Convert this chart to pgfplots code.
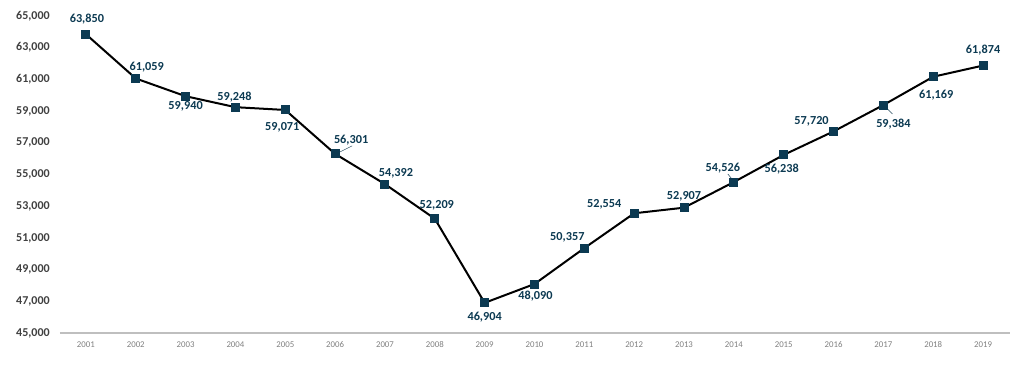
\documentclass[border=0pt]{standalone}
\usepackage{pgfplots}
\pgfplotsset{compat=1.18}
\usepackage{fontspec}
\setmainfont{Carlito}
\definecolor{navy}{HTML}{0C3A52}
\definecolor{tickgray}{HTML}{404040}
\definecolor{axgray}{HTML}{BFBFBF}
\newcommand{\lbl}[5]{\node[font=\bfseries\fontsize{9.2}{10}\selectfont, text=navy, inner sep=0pt] at ([xshift=#3*0.75pt, yshift=#4*0.75pt]axis cs:#1,#2) {#5};}
\newcommand{\ldr}[6]{\draw[navy!80!gray, line width=0.4pt] ([xshift=#3*0.75pt, yshift=#4*0.75pt]axis cs:#1,#2) -- ([xshift=#5*0.75pt, yshift=#6*0.75pt]axis cs:#1,#2);}
\begin{document}
\begin{tikzpicture}
\path[use as bounding box] (-45pt,-24pt) rectangle (724.5pt,249.75pt);
\begin{axis}[
  at={(0,0)}, anchor=origin,
  scale only axis,
  width=712.5pt, height=237.75pt,
  xmin=2000.48, xmax=2019.54,
  ymin=45000, ymax=65000,
  axis y line=none,
  axis x line*=bottom,
  axis line style={axgray, line width=0.8pt},
  x axis line style={-},
  xtick={2001,2002,2003,2004,2005,2006,2007,2008,2009,2010,2011,2012,2013,2014,2015,2016,2017,2018,2019},
  major tick length=0pt,
  /pgf/number format/assume math mode=true,
  xticklabel style={font=\fontsize{6.6}{7}\selectfont, text=gray, yshift=-3pt},
  xticklabel={\pgfmathprintnumber[1000 sep={}]{\tick}},
  clip=false,
]
\addplot[black, line width=1.5pt, mark=square*, mark size=3pt, mark options={fill=navy, draw=navy, line width=0pt}] coordinates {
(2001,63850) (2002,61059) (2003,59940) (2004,59248) (2005,59071)
(2006,56301) (2007,54392) (2008,52209) (2009,46904) (2010,48090)
(2011,50357) (2012,52554) (2013,52907) (2014,54526) (2015,56238)
(2016,57720) (2017,59384) (2018,61169) (2019,61874)};
\pgfplotsinvokeforeach{45,47,49,51,53,55,57,59,61,63,65}{
  \node[anchor=east, font=\bfseries\fontsize{9}{10}\selectfont, text=tickgray, inner sep=0pt] at ([xshift=-10*0.75pt]axis cs:2000.48,#1000) {#1,000};
}
\lbl{2001}{63850}{1}{15}{63,850}
\lbl{2002}{61059}{11}{11}{61,059}
\lbl{2003}{59940}{0}{-10}{59,940}
\lbl{2004}{59248}{-1}{10}{59,248}
\lbl{2005}{59071}{-3}{-17}{59,071}
\lbl{2006}{56301}{16}{14}{56,301}
\lbl{2007}{54392}{11}{11}{54,392}
\lbl{2008}{52209}{2}{13}{52,209}
\lbl{2009}{46904}{0}{-14}{46,904}
\lbl{2010}{48090}{1}{-12}{48,090}
\lbl{2011}{50357}{-17}{11}{50,357}
\lbl{2012}{52554}{-30}{9}{52,554}
\lbl{2013}{52907}{0}{11}{52,907}
\lbl{2014}{54526}{-11}{14}{54,526}
\lbl{2015}{56238}{-2}{-14}{56,238}
\lbl{2016}{57720}{-22}{10}{57,720}
\lbl{2017}{59384}{10}{-19}{59,384}
\lbl{2018}{61169}{3}{-18}{61,169}
\lbl{2019}{61874}{0}{15}{61,874}
\ldr{2006}{56301}{3}{1}{17}{8}
\ldr{2014}{54526}{-6}{8}{-2}{3}
\ldr{2017}{59384}{2}{-2}{9}{-9}
\end{axis}
\end{tikzpicture}
\end{document}
